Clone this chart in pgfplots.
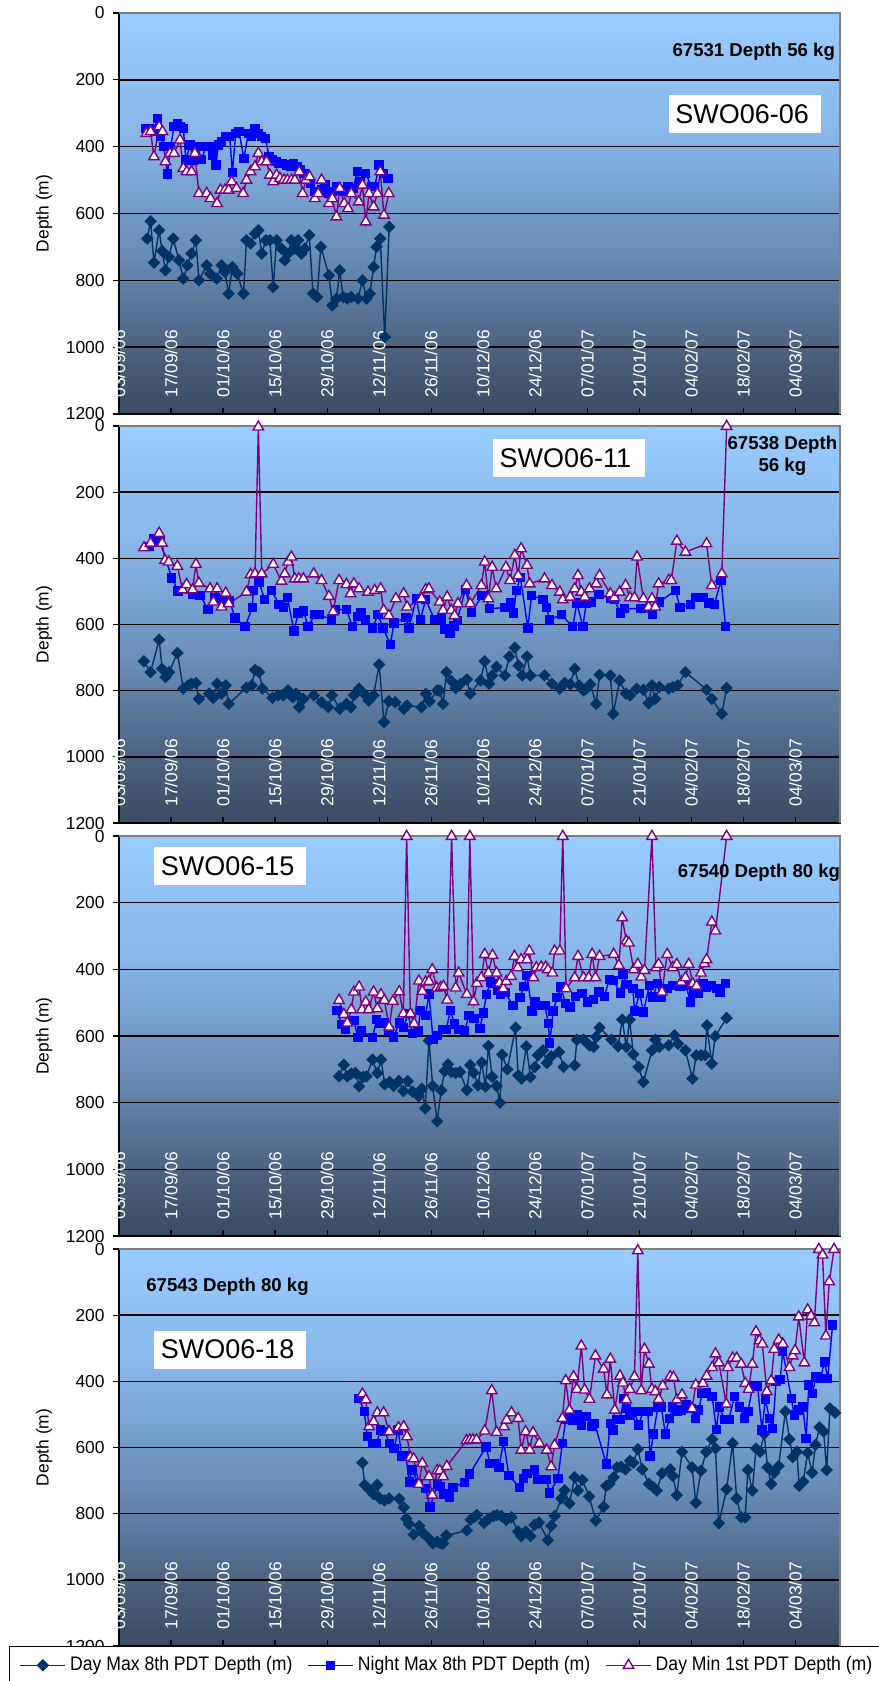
\documentclass[border=0pt]{standalone}
\usepackage{pgfplots}
\pgfplotsset{compat=1.18}
\usepackage{fontspec}
\setmainfont{Liberation Sans}
\newfontfamily\legendfont[FakeStretch=0.9]{Liberation Sans}
\definecolor{dmax}{RGB}{0,51,102}
\definecolor{nmax}{RGB}{0,0,255}
\definecolor{dmin}{RGB}{128,0,128}
\definecolor{ctop}{RGB}{153,204,255}
\definecolor{c30}{RGB}{136,182,232}
\definecolor{c60}{RGB}{104,140,182}
\definecolor{c85}{RGB}{74,96,125}
\definecolor{cbot}{RGB}{58,75,98}
\pgfdeclareverticalshading{panelbg}{100bp}{color(0bp)=(cbot); color(25bp)=(cbot); color(32.5bp)=(c85); color(45bp)=(c60); color(60bp)=(c30); color(75bp)=(ctop); color(100bp)=(ctop)}
\pgfplotsset{
 panel/.style={
  scale only axis, width=360.5pt,
  xmin=0, xmax=194, ymin=0, ymax=1200, y dir=reverse,
  clip=false,
  axis background/.style={shade, shading=panelbg},
  axis line style={black, line width=0.6pt},
  xtick={0,14,...,182},
  xticklabels={03/09/06,17/09/06,01/10/06,15/10/06,29/10/06,12/11/06,26/11/06,10/12/06,24/12/06,07/01/07,21/01/07,04/02/07,18/02/07,04/03/07},
  ytick={0,200,...,1200},
  xtick pos=left, ytick pos=left,
  xtick align=inside, ytick align=outside,
  major tick length=3pt,
  tick style={black, line width=0.6pt},
  ymajorgrids, major grid style={black, line width=0.75pt},
  /pgf/number format/assume math mode=true,
  /pgf/number format/set thousands separator={},
  tick label style={font=\fontsize{8.7}{10}\selectfont},
  xticklabel style={rotate=90, anchor=west, inner sep=0pt, white},
  xticklabel shift=-8pt,
  yticklabel style={anchor=east, inner sep=0pt},
  yticklabel shift=4pt,
  ylabel={Depth (m)},
  ylabel style={at={(axis description cs:-0.104,0.5)}, anchor=center, font=\fontsize{8.7}{10}\selectfont},
  every axis plot/.append style={line width=0.7pt},
 },
 sdm/.style={color=dmax, mark=square*, mark size=1.85pt, mark options={rotate=45, solid, fill=dmax}},
 snm/.style={color=nmax, mark=square*, mark size=2.0pt, mark options={solid, fill=nmax}},
 sdn/.style={color=dmin, mark=triangle*, mark size=3.0pt, mark options={solid, fill=white, draw=dmin, line width=0.7pt}},
}
\newcommand{\boxlab}[1]{{\fontsize{13.5}{15}\selectfont #1}}
\begin{document}
\begin{tikzpicture}
\useasboundingbox (0,0) rectangle (439pt,-840.5pt);
% ---------------- Panel 1
\begin{axis}[panel, at={(59.5pt,-6.5pt)}, anchor=north west, height=200.5pt]
\addplot[sdm] coordinates {(7.6,675)(8.5,623)(9.4,747)(10.8,650)(11.6,712)(12.5,770)(13.4,730)(14.6,675)(16.1,740)(17.3,795)(18.4,755)(19.5,720)(20.7,680)(21.5,800)(23.6,755)(24.5,780)(26.3,795)(27.6,755)(28.5,775)(29.5,840)(30.5,760)(31.8,780)(33.5,840)(34.3,680)(35.4,690)(36.6,660)(37.5,650)(38.4,720)(39.5,680)(40.6,680)(41.5,820)(42.4,680)(43.7,705)(44.6,740)(45.5,720)(46.4,680)(47.3,705)(48.2,680)(49.1,720)(50.0,705)(51.2,665)(52.2,840)(53.3,850)(54.3,700)(56.5,785)(57.4,875)(58.5,855)(59.4,770)(60.3,850)(61.4,855)(62.5,850)(64.3,855)(65.5,800)(66.6,855)(67.5,840)(68.5,760)(69.3,700)(70.3,675)(71.5,970)(72.7,640)};
\addplot[snm] coordinates {(7.2,345)(8.3,345)(9.4,355)(10.3,315)(11.2,370)(12.1,400)(13.0,482)(13.9,400)(14.8,340)(15.7,330)(16.4,340)(17.3,345)(18.0,440)(19.1,395)(20.0,440)(21.1,400)(22.2,438)(23.4,400)(24.3,400)(25.2,425)(26.1,455)(26.7,395)(27.6,385)(28.7,370)(29.8,370)(30.5,478)(31.4,360)(32.3,355)(33.6,435)(34.8,360)(35.7,370)(36.6,345)(37.5,360)(38.4,370)(39.4,375)(40.4,430)(41.3,440)(42.2,445)(43.1,450)(44.0,450)(45.1,455)(46.1,460)(47.0,450)(48.0,460)(48.9,470)(49.8,480)(50.7,495)(51.6,510)(52.7,535)(53.6,535)(54.5,530)(55.4,515)(56.3,540)(57.4,535)(58.5,520)(59.4,530)(60.6,535)(61.6,520)(63.0,525)(64.1,475)(64.8,505)(66.4,480)(67.9,520)(68.8,520)(70.0,455)(71.1,480)(72.4,495)};
\addplot[sdn] coordinates {(7.4,360)(8.5,355)(9.4,430)(10.8,340)(11.7,355)(12.5,445)(13.7,420)(14.8,420)(16.4,380)(17.3,465)(18.2,475)(19.5,475)(20.4,420)(21.5,540)(23.6,540)(24.6,555)(26.4,570)(27.3,530)(28.5,530)(29.5,530)(30.3,505)(31.6,525)(33.4,540)(34.3,500)(35.4,475)(36.6,460)(37.5,420)(38.4,445)(39.7,445)(40.6,485)(41.5,505)(42.4,485)(43.3,495)(44.4,500)(45.3,500)(46.4,500)(47.3,500)(48.5,475)(49.4,540)(50.3,500)(51.3,490)(52.7,555)(53.6,540)(54.5,500)(56.5,570)(57.4,555)(58.5,610)(59.4,525)(60.6,570)(61.6,585)(62.5,540)(64.5,565)(65.5,515)(66.4,625)(67.3,540)(68.5,580)(69.5,540)(70.3,475)(71.3,605)(72.6,540)};
\node[font=\bfseries\fontsize{9.3}{11}\selectfont] at (axis cs:170.8,117) {67531 Depth 56 kg};
\node[fill=white, anchor=west, inner xsep=3.3pt, inner ysep=0pt, minimum height=19pt, text width=69.4pt, align=left] at (axis cs:147.8,302) {\boxlab{SWO06-06}};
\draw[gray, line width=0.6pt] (axis cs:0,0) -- (axis cs:194,0) -- (axis cs:194,1200);
\end{axis}
% ---------------- Panel 2
\begin{axis}[panel, at={(59.5pt,-213pt)}, anchor=north west, height=198.5pt]
\addplot[sdm] coordinates {(6.7,711)(8.5,744)(10.8,646)(11.6,734)(12.5,759)(13.5,744)(15.7,686)(17.3,794)(18.6,784)(19.5,779)(20.7,777)(21.5,825)(24.3,809)(25.4,822)(26.4,779)(27.6,809)(28.7,784)(29.5,840)(34.3,791)(35.7,784)(36.6,737)(37.7,744)(38.6,794)(41.3,822)(42.8,814)(44.2,814)(45.5,799)(46.7,820)(47.6,809)(48.5,850)(49.6,825)(52.4,814)(54.5,835)(56.3,850)(57.3,814)(59.4,855)(61.2,840)(62.4,850)(63.2,814)(64.6,794)(66.4,814)(67.2,830)(68.5,814)(70.0,721)(71.3,895)(72.6,832)(74.3,835)(76.6,855)(77.5,845)(81.4,850)(82.6,810)(83.6,832)(85.6,799)(86.3,800)(87.2,840)(88.1,744)(89.4,770)(90.6,792)(91.8,780)(93.6,766)(94.5,809)(97.3,769)(98.4,711)(99.6,779)(100.4,754)(101.6,728)(103.8,754)(105.0,697)(106.5,670)(107.5,724)(108.5,754)(109.8,697)(110.7,754)(114.5,754)(116.5,779)(118.6,794)(119.9,777)(121.4,781)(122.6,734)(123.8,784)(125.0,799)(125.7,794)(126.8,781)(128.4,840)(129.3,752)(132.2,754)(133.0,870)(134.7,769)(136.4,809)(137.5,814)(139.3,794)(141.1,797)(142.5,838)(143.4,784)(144.3,825)(145.4,789)(147.9,794)(149.0,789)(150.3,784)(152.4,744)(158.1,797)(159.5,825)(162.2,870)(163.5,792)};
\addplot[snm] coordinates {(8.2,364)(9.4,341)(11.0,348)(14.2,459)(15.9,499)(19.7,509)(21.8,512)(24.0,555)(25.8,520)(27.2,527)(28.5,532)(29.8,529)(31.2,580)(33.9,606)(35.9,549)(36.1,497)(37.7,472)(39.2,525)(41.0,497)(43.1,539)(44.2,549)(45.3,519)(47.1,620)(48.2,565)(49.6,559)(50.9,606)(52.7,570)(53.9,570)(57.2,586)(58.3,555)(61.2,555)(62.8,606)(64.3,576)(65.1,565)(66.4,586)(68.2,610)(69.7,570)(71.0,610)(73.0,660)(74.0,596)(77.2,578)(78.0,610)(80.0,522)(81.1,585)(82.5,525)(84.9,585)(86.7,583)(87.6,613)(89.1,626)(90.1,605)(91.0,587)(93.2,494)(94.9,564)(97.7,512)(98.4,512)(99.7,552)(103.8,549)(105.3,535)(106.2,565)(106.9,497)(108.0,457)(110.0,610)(111.0,512)(114.1,525)(115.0,549)(115.9,586)(119.0,570)(122.1,606)(123.2,535)(124.8,606)(125.7,537)(127.1,532)(129.1,509)(132.2,522)(133.3,525)(134.9,565)(136.0,552)(140.5,552)(143.6,570)(145.4,532)(149.7,497)(151.0,549)(153.7,539)(155.3,519)(157.3,519)(158.7,535)(160.2,539)(162.0,467)(163.2,606)};
\addplot[sdn] coordinates {(6.7,368)(8.5,354)(10.8,324)(11.6,354)(12.4,406)(13.4,411)(15.7,424)(17.1,495)(18.2,479)(19.8,495)(20.7,418)(21.5,475)(24.5,492)(25.4,532)(26.4,492)(27.6,547)(28.7,505)(29.5,537)(34.3,502)(35.4,449)(36.6,447)(37.5,3)(38.4,447)(41.5,418)(43.7,469)(44.6,447)(45.5,411)(46.4,396)(47.3,462)(48.4,462)(49.6,462)(52.4,447)(54.5,467)(56.5,515)(57.6,562)(59.2,467)(61.2,479)(62.3,507)(63.2,477)(64.6,492)(67.0,502)(68.8,497)(70.4,492)(71.2,557)(72.6,573)(74.5,522)(76.6,507)(77.5,547)(81.4,522)(82.5,495)(83.4,492)(86.3,532)(87.2,557)(88.3,517)(89.4,557)(90.3,573)(91.2,537)(93.5,482)(94.5,537)(97.5,482)(98.4,411)(99.4,522)(100.4,427)(101.5,492)(104.1,427)(105.2,467)(106.5,391)(107.4,452)(108.2,371)(109.8,421)(110.5,477)(114.5,462)(116.5,482)(118.6,502)(119.4,525)(121.4,517)(122.6,492)(123.5,452)(124.4,502)(125.3,517)(126.6,492)(128.4,477)(129.3,452)(132.2,507)(133.3,519)(134.7,502)(136.3,482)(137.5,519)(138.7,519)(139.4,396)(141.1,522)(142.5,547)(143.4,522)(144.3,547)(145.2,477)(147.9,467)(148.6,467)(150.1,348)(152.4,381)(158.1,356)(159.5,482)(162.2,447)(163.5,1)};
\node[font=\bfseries\fontsize{9.3}{11}\selectfont, align=center] at (axis cs:178.5,88.6) {67538 Depth\\56 kg};
\node[fill=white, anchor=west, inner xsep=3.3pt, inner ysep=0pt, minimum height=19pt, text width=69.4pt, align=left] at (axis cs:100.5,97.7) {\boxlab{SWO06-11}};
\draw[gray, line width=0.6pt] (axis cs:0,0) -- (axis cs:194,0) -- (axis cs:194,1200);
\end{axis}
% ---------------- Panel 3
\begin{axis}[panel, at={(59.5pt,-418pt)}, anchor=north west, height=200pt]
\addplot[sdm] coordinates {(59.2,721)(60.5,686)(61.4,721)(62.5,713)(63.6,711)(64.6,751)(65.7,723)(66.6,721)(68.2,671)(69.5,711)(70.5,671)(71.5,745)(72.8,738)(73.9,750)(75.3,735)(76.5,765)(77.7,735)(79.0,767)(80.6,780)(81.5,758)(82.4,817)(83.4,614)(84.4,750)(85.6,856)(86.7,763)(87.6,705)(88.5,685)(89.4,708)(90.6,711)(91.7,708)(93.6,762)(94.5,687)(95.4,710)(96.6,748)(97.6,680)(98.6,752)(99.4,630)(100.4,722)(101.6,750)(102.5,800)(103.1,656)(104.5,700)(106.7,575)(107.4,718)(108.3,728)(109.6,631)(110.7,723)(111.9,693)(112.7,658)(114.1,643)(115.1,681)(116.3,661)(118.4,648)(119.6,693)(122.6,688)(123.2,611)(125.0,611)(126.6,628)(127.7,633)(128.4,603)(129.3,575)(132.5,611)(134.3,631)(135.4,551)(136.5,633)(137.4,551)(138.4,655)(139.8,693)(141.1,738)(143.4,643)(144.3,611)(145.4,633)(147.9,628)(149.5,598)(150.4,623)(152.4,643)(154.3,728)(155.3,658)(156.6,658)(157.7,658)(158.2,568)(159.5,683)(160.4,601)(163.5,546)};
\addplot[snm] coordinates {(58.7,523)(59.9,565)(61.0,581)(63.2,553)(64.3,605)(65.2,583)(68.2,605)(69.3,551)(70.2,561)(71.5,560)(72.7,585)(73.9,603)(75.4,561)(76.5,575)(77.8,533)(78.9,593)(80.5,585)(81.1,523)(82.5,538)(83.4,474)(84.5,610)(85.6,599)(87.0,580)(88.0,581)(89.2,523)(90.2,564)(91.5,580)(93.0,584)(94.2,538)(95.5,547)(97.1,578)(98.0,531)(98.9,475)(99.9,438)(100.7,443)(101.9,463)(102.7,474)(103.9,470)(106.0,508)(107.9,485)(108.9,451)(109.8,418)(111.1,525)(111.9,498)(113.4,508)(114.6,508)(115.5,563)(115.9,621)(116.8,525)(117.9,485)(118.8,453)(120.2,503)(121.4,513)(122.9,481)(124.6,473)(126.1,498)(127.7,491)(129.1,468)(130.6,481)(131.9,431)(133.1,433)(134.9,471)(135.6,415)(136.7,445)(138.3,458)(138.7,525)(140.1,473)(141.1,528)(142.7,448)(143.6,483)(144.9,443)(145.8,483)(147.5,458)(149.0,448)(151.0,451)(152.6,448)(153.7,498)(154.6,473)(156.0,471)(157.1,443)(158.0,453)(159.4,448)(160.7,458)(161.7,468)(163.2,443)};
\addplot[sdn] coordinates {(59.2,493)(60.5,535)(61.4,561)(62.5,521)(63.2,468)(64.6,453)(65.4,521)(66.4,498)(67.2,521)(68.5,468)(69.5,518)(70.5,476)(71.4,493)(72.7,573)(73.7,496)(75.4,467)(76.5,533)(77.4,1)(78.4,533)(79.4,563)(80.7,435)(81.6,466)(82.5,438)(83.4,436)(84.3,401)(85.5,456)(86.5,455)(87.3,451)(88.3,492)(89.5,1)(90.6,456)(91.4,411)(93.6,475)(94.4,1)(95.4,497)(96.3,442)(97.5,425)(98.4,355)(99.4,411)(100.5,358)(101.6,411)(102.4,441)(103.4,458)(104.2,436)(105.5,421)(106.4,361)(107.3,395)(108.2,371)(109.8,371)(110.4,345)(111.5,425)(112.3,395)(113.6,393)(114.8,393)(115.4,401)(116.6,411)(117.2,345)(118.6,345)(119.4,1)(120.3,458)(122.6,425)(123.5,361)(125.0,425)(126.4,425)(127.3,355)(128.2,425)(129.3,361)(133.1,355)(134.5,388)(135.4,245)(136.5,315)(137.2,321)(138.5,401)(139.6,385)(140.5,423)(141.4,403)(143.4,1)(144.5,395)(145.2,385)(146.1,468)(147.5,355)(149.0,395)(150.1,385)(151.3,438)(152.4,425)(153.3,385)(154.4,443)(155.4,450)(156.6,411)(157.5,383)(158.1,371)(159.5,258)(160.5,285)(163.5,1)};
\node[font=\bfseries\fontsize{9.3}{11}\selectfont] at (axis cs:172.2,110) {67540 Depth 80 kg};
\node[fill=white, anchor=west, inner xsep=3.3pt, inner ysep=0pt, minimum height=19pt, text width=69.4pt, align=left] at (axis cs:9.4,90.4) {\boxlab{SWO06-15}};
\draw[gray, line width=0.6pt] (axis cs:0,0) -- (axis cs:194,0) -- (axis cs:194,1200);
\end{axis}
% ---------------- Panel 4
\begin{axis}[panel, at={(59.5pt,-624.5pt)}, anchor=north west, height=198.5pt,
  legend columns=3,
  legend cell align=left,
  legend image code/.code={\draw[mark repeat=2,mark phase=2,#1] plot coordinates {(0pt,0pt) (11.25pt,0pt) (22.5pt,0pt)};},
  legend style={at={(-0.1526,0)}, anchor=north west, draw=black, line width=0.7pt, fill=white,
    font=\legendfont\fontsize{9.8}{11}\selectfont, inner xsep=5pt, inner ysep=3pt,
    /tikz/every even column/.append style={column sep=5.5pt}}]
\addplot[sdm] coordinates {(65.5,646)(66.1,713)(67.3,727)(68.5,741)(69.5,713)(70.2,754)(71.4,760)(72.7,754)(75.4,755)(76.6,781)(77.3,815)(78.0,831)(79.3,863)(80.8,837)(81.8,858)(83.4,875)(84.5,890)(85.6,885)(86.5,890)(87.2,890)(88.1,866)(93.6,851)(94.6,818)(95.6,810)(96.3,804)(98.2,828)(99.5,815)(100.8,807)(101.7,804)(102.9,807)(104.2,819)(105.6,811)(107.4,854)(108.2,868)(109.4,854)(110.7,868)(111.8,834)(113.0,827)(115.4,880)(116.3,837)(117.2,807)(119.0,754)(119.9,729)(121.2,769)(122.6,690)(123.5,730)(124.7,698)(126.5,748)(128.3,821)(130.4,779)(131.1,716)(132.0,710)(133.1,690)(134.0,660)(135.1,658)(136.3,666)(137.5,640)(138.4,646)(139.6,605)(140.8,666)(142.6,710)(143.8,720)(144.7,730)(146.1,678)(148.3,666)(149.0,686)(150.1,744)(151.5,613)(154.2,660)(155.2,767)(156.6,670)(158.0,613)(159.6,575)(160.5,603)(161.4,829)(163.5,726)(165.1,587)(166.2,754)(167.4,811)(168.5,811)(169.2,668)(170.4,730)(171.4,603)(172.5,613)(173.6,559)(174.5,660)(175.5,710)(176.3,676)(177.5,656)(179.3,491)(180.4,575)(181.3,629)(182.4,613)(183.0,716)(184.1,703)(185.3,616)(186.5,676)(187.4,592)(188.5,539)(189.6,552)(190.4,668)(191.3,482)(192.7,495)};
\addlegendentry{Day Max 8th PDT Depth (m)}
\addplot[snm] coordinates {(64.6,451)(66.0,492)(66.8,567)(68.2,587)(69.3,587)(70.4,547)(71.5,552)(72.8,587)(74.0,603)(75.1,547)(76.1,626)(77.2,626)(78.1,704)(78.8,668)(80.6,709)(82.4,723)(83.7,780)(85.7,710)(86.5,718)(87.4,740)(89.0,749)(89.9,720)(93.0,705)(94.3,680)(98.8,598)(99.8,649)(101.1,648)(102.2,660)(103.5,582)(104.9,685)(107.8,720)(108.9,693)(109.8,678)(111.8,668)(112.7,696)(115.0,696)(115.9,737)(118.1,693)(119.3,587)(120.2,515)(121.2,507)(122.1,517)(123.2,502)(124.4,532)(125.7,507)(127.1,537)(128.0,527)(131.1,650)(132.2,527)(132.9,547)(133.8,515)(134.9,515)(135.8,451)(136.5,482)(137.5,502)(138.7,492)(139.8,532)(141.0,492)(142.3,492)(142.9,626)(143.8,559)(145.0,477)(145.9,477)(147.0,559)(148.1,512)(149.0,477)(150.1,492)(151.3,487)(152.6,472)(153.9,482)(155.1,512)(156.0,487)(156.9,436)(158.0,434)(159.6,446)(160.7,545)(161.5,477)(162.9,515)(164.1,515)(165.6,446)(166.9,477)(168.3,512)(169.2,492)(170.5,416)(171.8,416)(173.0,547)(173.9,454)(175.0,512)(175.9,542)(176.8,401)(177.9,394)(178.6,310)(180.9,451)(181.7,502)(182.9,487)(184.0,477)(184.9,572)(185.6,411)(186.6,436)(187.5,386)(188.8,391)(189.8,341)(190.7,391)(192.0,230)};
\addlegendentry{Night Max 8th PDT Depth (m)}
\addplot[sdn] coordinates {(65.5,438)(66.4,456)(67.3,537)(68.5,522)(69.5,495)(71.2,495)(72.7,552)(75.2,540)(76.6,537)(77.5,567)(78.4,630)(79.3,634)(80.7,711)(81.6,648)(83.4,688)(84.3,744)(85.6,670)(86.3,670)(87.2,688)(88.2,657)(93.5,579)(94.4,577)(95.2,577)(96.2,577)(98.4,550)(100.3,428)(101.6,554)(103.6,537)(104.3,517)(105.6,495)(107.4,512)(108.2,608)(109.4,552)(110.5,608)(111.4,555)(113.1,587)(115.1,608)(116.3,658)(117.2,593)(119.3,512)(120.2,398)(121.2,487)(122.3,386)(123.2,424)(124.4,293)(125.3,426)(126.6,454)(128.2,323)(130.4,363)(131.3,441)(132.2,333)(133.4,487)(134.8,384)(135.6,405)(136.5,456)(137.4,424)(138.7,386)(139.6,5)(140.5,428)(141.4,303)(142.6,348)(143.4,424)(144.3,431)(145.2,454)(146.3,414)(148.3,386)(149.2,388)(150.1,456)(151.5,441)(154.2,482)(155.2,411)(157.1,406)(158.1,384)(159.6,358)(160.5,317)(161.4,344)(163.4,469)(163.8,358)(165.1,330)(166.2,330)(167.4,348)(168.5,406)(169.4,424)(170.4,348)(171.4,250)(172.3,277)(173.1,287)(174.3,431)(175.5,398)(176.3,303)(177.5,275)(178.6,287)(180.4,358)(181.3,323)(181.9,307)(182.9,205)(184.4,344)(185.3,184)(186.2,203)(187.1,223)(188.3,1)(189.3,18)(190.2,263)(191.1,99)(192.4,1)};
\addlegendentry{Day Min 1st PDT Depth (m)}
\node[font=\bfseries\fontsize{9.3}{11}\selectfont] at (axis cs:29.2,115) {67543 Depth 80 kg};
\node[fill=white, anchor=west, inner xsep=3.3pt, inner ysep=0pt, minimum height=19pt, text width=69.4pt, align=left] at (axis cs:9.4,303.8) {\boxlab{SWO06-18}};
\draw[gray, line width=0.6pt] (axis cs:0,0) -- (axis cs:194,0) -- (axis cs:194,1200);
\end{axis}
\end{tikzpicture}
\end{document}
